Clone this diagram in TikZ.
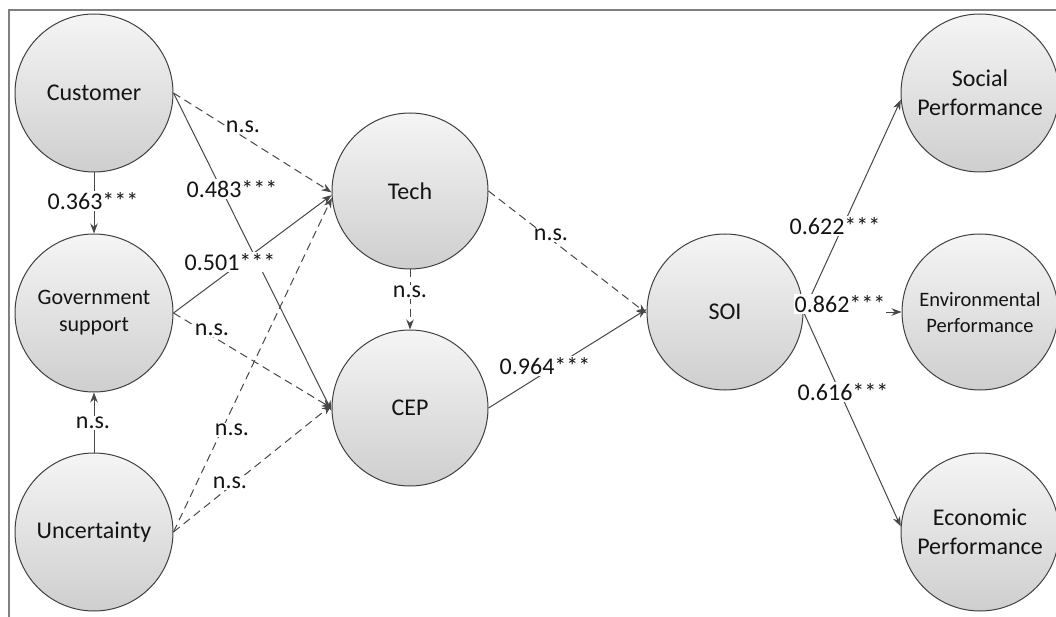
\documentclass[tikz,border=0pt]{standalone}
\usepackage{fontspec}
\setmainfont{Carlito}
\usetikzlibrary{arrows.meta}
\begin{document}
\begin{tikzpicture}[x=1pt,y=-1pt,
  lat/.style={circle, draw=black!75, line width=1pt, top color=black!4, bottom color=black!19,
    inner sep=0pt, align=center, text=black!92, font=\fontsize{24}{29}\selectfont},
  big/.style={lat, minimum size=158pt},
  mid/.style={lat, minimum size=156pt},
  conn/.style={draw=black!72, line width=1pt, -{Stealth[length=10pt,width=7.5pt]}},
  ns/.style={conn, dash pattern=on 8pt off 5pt},
  lbl/.style={fill=white, inner sep=1pt, text=black!92, font=\fontsize{24}{29}\selectfont},
  frame/.style={draw=black!50, line width=1.8pt}]
\useasboundingbox (0,0) rectangle (1056,617);
\draw[frame] (9,617) -- (9,10) -- (1056,10);
% nodes
\node[big] (cust) at (94,93) {Customer};
\node[big, font=\fontsize{22}{27}\selectfont] (gov) at (94,313) {Government\\support};
\node[big] (unc) at (94,532) {Uncertainty};
\node[mid] (tech) at (410,191) {Tech};
\node[mid] (cep) at (410,408) {CEP};
\node[mid] (soi) at (725,312) {SOI};
\node[big] (soc) at (980,93) {Social\\Performance};
\node[mid, font=\fontsize{20.5}{26}\selectfont] (env) at (980,312) {Environmental\\Performance};
\node[big] (eco) at (980,532) {Economic\\Performance};
% connectors
\path[conn] (cust.south) -- (gov.north);
\path[conn] (unc.north) -- (gov.south);
\path[ns] (cust.east) -- (tech.181);
\path[conn] (cust.east) -- (cep.182);
\path[conn] (gov.east) -- (tech.183);
\path[ns] (gov.east) -- (cep.180);
\path[ns] (unc.east) -- (tech.185);
\path[ns] (unc.east) -- (cep.178);
\path[ns] (tech.south) -- (cep.north);
\path[ns] (tech.east) -- (soi.181);
\path[conn] (cep.east) -- (soi.178);
\path[conn] (soi.east) -- (soc.185);
\path[conn] (soi.east) -- (env.west);
\path[conn] (soi.east) -- (eco.176);
% labels
\node[lbl] (l1) at (93,201) {0.363***};
\node[lbl] (l2) at (93,423) {n.s.};
\node[lbl] (l3) at (243,127) {n.s.};
\node[lbl] (l4) at (232,189) {0.483***};
\node[lbl] (l5) at (230,262) {0.501***};
\node[lbl] (l6) at (212,330) {n.s.};
\node[lbl] (l7) at (232,430) {n.s.};
\node[lbl] (l8) at (230,483) {n.s.};
\node[lbl] (l9) at (410,292) {n.s.};
\node[lbl] (l10) at (551,235) {n.s.};
\node[lbl] (l11) at (545,366) {0.964***};
\node[lbl] (l12) at (835,226) {0.622***};
\node[lbl] (l13) at (840,304) {0.862***};
\node[lbl] (l14) at (843,392) {0.616***};
\end{tikzpicture}
\end{document}
